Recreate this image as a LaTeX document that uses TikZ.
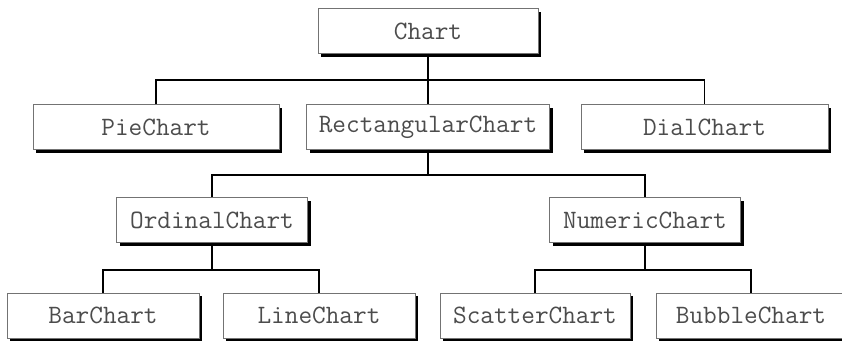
\documentclass[tikz,border=0pt]{standalone}
\usetikzlibrary{shadows}
\begin{document}
\begin{tikzpicture}[x=1pt,y=-1pt,
  cbox/.style={rectangle, draw=black!55, line width=0.8pt, fill=white,
    minimum height=45pt, inner sep=0pt,
    font=\ttfamily\fontsize{26.5}{26.5}\selectfont, text=black!70,
    general shadow={fill=black, shadow xshift=3pt, shadow yshift=-3pt}},
  conn/.style={draw=black, line width=1.4pt}]
\clip (0,0) rectangle (842,341);
\fill[white] (0,0) rectangle (842,341);
% level 0
\node[cbox, minimum width=220pt] (chart) at (428,31) {Chart};
% level 1
\node[cbox, minimum width=246pt] (pie) at (156,127) {PieChart};
\node[cbox, minimum width=243pt] (rect) at (428,127) {RectangularChart};
\node[cbox, minimum width=247pt] (dial) at (704.5,127) {DialChart};
% level 2
\node[cbox, minimum width=191pt] (ord) at (212,220) {OrdinalChart};
\node[cbox, minimum width=191pt] (num) at (645,220) {NumericChart};
% level 3
\node[cbox, minimum width=192pt] (bar) at (103,315.5) {BarChart};
\node[cbox, minimum width=192pt] (line) at (319,315.5) {LineChart};
\node[cbox, minimum width=190pt] (scat) at (535,315.5) {ScatterChart};
\node[cbox, minimum width=190pt] (bub) at (751,315.5) {BubbleChart};
% junctions
\coordinate (j1) at (428,80);
\coordinate (j2) at (428,175);
\coordinate (j3) at (212,270);
\coordinate (j4) at (645,270);
% connectors
\draw[conn] (chart.south) -- (rect.north);
\draw[conn] (pie.north) |- (j1) -| (dial.north);
\draw[conn] (rect.south) -- (j2);
\draw[conn] (ord.north) |- (j2) -| (num.north);
\draw[conn] (ord.south) -- (j3);
\draw[conn] (bar.north) |- (j3) -| (line.north);
\draw[conn] (num.south) -- (j4);
\draw[conn] (scat.north) |- (j4) -| (bub.north);
\end{tikzpicture}
\end{document}
